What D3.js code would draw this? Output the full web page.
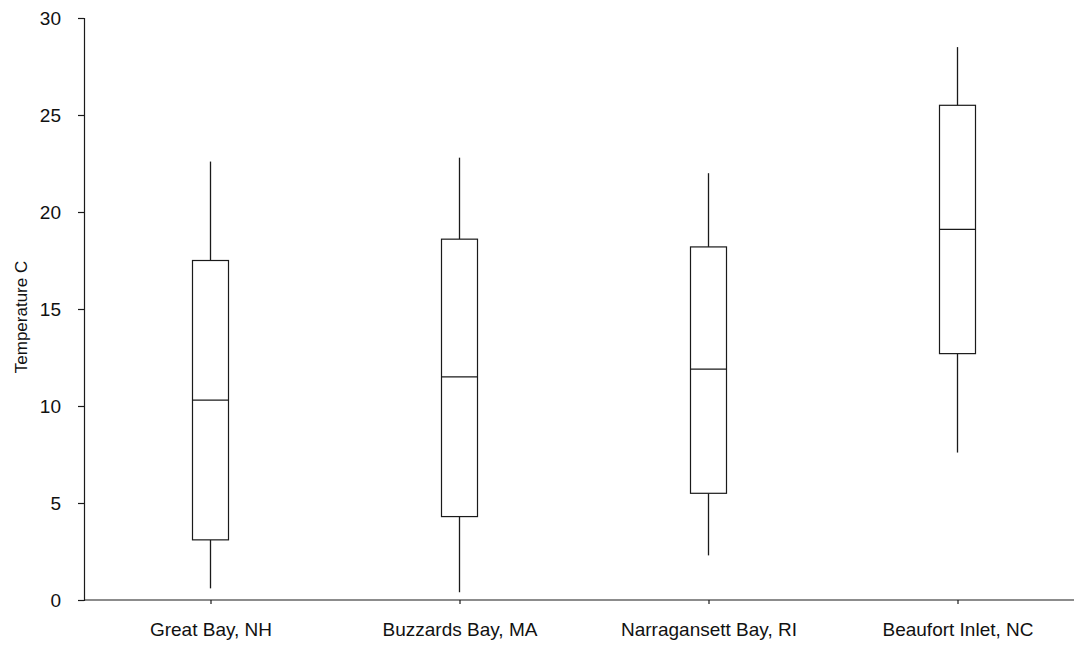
<!DOCTYPE html>
<html>
<head>
<meta charset="utf-8">
<script src="https://cdn.jsdelivr.net/npm/d3@7"></script>
<style>
  body { margin: 0; background: #fff; }
  text { font-family: "Liberation Sans", Arial, sans-serif; fill: #111; }
</style>
</head>
<body>
<div id="chart"></div>
<script>
// Site names along the x axis
const sites = ["Great Bay, NH", "Buzzards Bay, MA", "Narragansett Bay, RI", "Beaufort Inlet, NC"];
// Box plot statistics (Temperature C)
const whiskerLow = [0.6, 0.4, 2.3, 7.6];
const q1 = [3.1, 4.3, 5.5, 12.7];
const median = [10.3, 11.5, 11.9, 19.1];
const q3 = [17.5, 18.6, 18.2, 25.5];
const whiskerHigh = [22.6, 22.8, 22.0, 28.5];
const yTicks = [0, 5, 10, 15, 20, 25, 30];

const width = 1074, height = 645;
const margin = { top: 18, right: 0, bottom: 45, left: 84 };

const svg = d3.select("#chart")
  .append("svg")
  .attr("width", width)
  .attr("height", height);

const x = d3.scalePoint()
  .domain(sites)
  .range([86, 1082])
  .padding(0.5);

const y = d3.scaleLinear()
  .domain([0, 30])
  .range([height - margin.bottom, margin.top]);

const boxW = 36;
const stroke = "#1a1a1a";

// boxes + whiskers
const data = sites.map((s, i) => ({
  site: s, lo: whiskerLow[i], q1: q1[i], med: median[i], q3: q3[i], hi: whiskerHigh[i]
}));

const g = svg.append("g");

g.selectAll(".whisker-low")
  .data(data)
  .enter()
  .append("line")
  .attr("x1", d => x(d.site))
  .attr("x2", d => x(d.site))
  .attr("y1", d => y(d.lo))
  .attr("y2", d => y(d.q1))
  .attr("stroke", stroke)
  .attr("stroke-width", 1.3);

g.selectAll(".whisker-high")
  .data(data)
  .enter()
  .append("line")
  .attr("x1", d => x(d.site))
  .attr("x2", d => x(d.site))
  .attr("y1", d => y(d.q3))
  .attr("y2", d => y(d.hi))
  .attr("stroke", stroke)
  .attr("stroke-width", 1.3);

g.selectAll(".box")
  .data(data)
  .enter()
  .append("rect")
  .attr("x", d => x(d.site) - boxW / 2)
  .attr("y", d => y(d.q3))
  .attr("width", boxW)
  .attr("height", d => y(d.q1) - y(d.q3))
  .attr("fill", "#fff")
  .attr("stroke", stroke)
  .attr("stroke-width", 1.2);

g.selectAll(".median")
  .data(data)
  .enter()
  .append("line")
  .attr("x1", d => x(d.site) - boxW / 2)
  .attr("x2", d => x(d.site) + boxW / 2)
  .attr("y1", d => y(d.med))
  .attr("y2", d => y(d.med))
  .attr("stroke", stroke)
  .attr("stroke-width", 1.2);

// Y axis
const yAxis = svg.append("g")
  .attr("transform", `translate(${margin.left},0)`)
  .call(d3.axisLeft(y).tickValues(yTicks).tickSize(6).tickPadding(17).tickSizeOuter(6));
yAxis.selectAll("text").style("font-size", "19px");
yAxis.selectAll("path, line").attr("stroke", stroke).attr("stroke-width", 1.2);

// X axis
const xAxis = svg.append("g")
  .attr("transform", `translate(0,${y(0)})`)
  .call(d3.axisBottom(x).tickSize(4).tickPadding(19).tickSizeOuter(0));
xAxis.select(".domain").attr("d", `M${margin.left},0H${width}`);
xAxis.selectAll("text").style("font-size", "19px");
xAxis.selectAll("path, line").attr("stroke", stroke).attr("stroke-width", 1.2);

// Y label
svg.append("text")
  .attr("transform", `translate(27,${(y(0) + y(30)) / 2 + 8}) rotate(-90)`)
  .attr("text-anchor", "middle")
  .style("font-size", "17px")
  .text("Temperature C");
</script>
</body>
</html>
